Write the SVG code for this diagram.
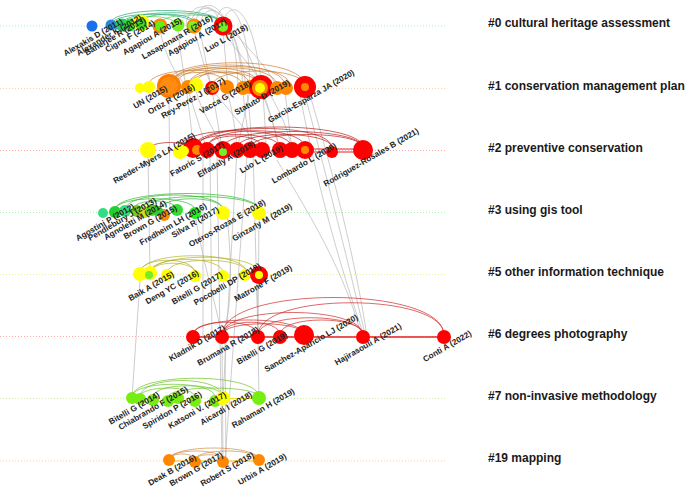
<svg xmlns="http://www.w3.org/2000/svg" width="685" height="489" viewBox="0 0 685 489">
<style>
.tl{stroke-width:1;stroke-dasharray:1 2;fill:none}
.g{fill:none;stroke:#b8b8b8;stroke-width:0.7}
.a{fill:none;stroke-width:0.8;stroke-opacity:0.85}
.nl{font-family:"Liberation Sans",Arial,sans-serif;font-size:8.2px;font-weight:bold;fill:#222;text-anchor:middle}
.cl{font-family:"Liberation Sans",Arial,sans-serif;font-size:12px;font-weight:bold;fill:#1a1a1a}
.r{fill:#ff0000}.o{fill:#ff8800}.y{fill:#ffff00}.gr{fill:#77ee11}
</style>
<rect width="685" height="489" fill="#fff"/>
<g id="timelines">
<line class="tl" x1="0" y1="26" x2="445" y2="26" stroke="#99eee0"/>
<line class="tl" x1="0" y1="88.5" x2="445" y2="88.5" stroke="#ffd0a0"/>
<line class="tl" x1="0" y1="150.5" x2="445" y2="150.5" stroke="#ffa8a8"/>
<line class="tl" x1="0" y1="212.5" x2="445" y2="212.5" stroke="#aaeeaa"/>
<line class="tl" x1="0" y1="274.5" x2="445" y2="274.5" stroke="#eeee99"/>
<line class="tl" x1="0" y1="336.5" x2="445" y2="336.5" stroke="#ffa8a8"/>
<line class="tl" x1="0" y1="398.5" x2="445" y2="398.5" stroke="#d4f0a8"/>
<line class="tl" x1="0" y1="461" x2="445" y2="461" stroke="#ffcc99"/>
</g>
<g id="connectors">
<g id="inter-cluster">
<path class="g" d="M186 26 C188 -6 238 -6 243 88"/>
<path class="g" d="M215 26 C218 -5 248 -5 250 88"/>
<path class="g" d="M223 24 C228 -4 262 -4 266 150"/>
<path class="g" d="M196 26 C196 -8 236 -8 238 88"/>
<path class="g" d="M190 26 C192 5 218 0 220 26"/>
<path class="g" d="M200 26 C203 -4 245 -4 252 150"/>
<path class="g" d="M223 30 L228 88"/>
<path class="g" d="M200 30 C205 60 215 100 222 150"/>
<path class="g" d="M223 30 C240 60 280 90 292 150"/>
<path class="g" d="M178 28 C180 60 190 100 193 150"/>
<path class="g" d="M230 28 C250 50 270 70 277 88"/>
<path class="g" d="M194 30 C200 50 205 70 212 88"/>
<path class="g" d="M235 30 C255 60 270 110 280 150"/>
<path class="g" d="M160 30 C165 55 175 75 188 88"/>
<path class="g" d="M169 98 L170 212"/>
<path class="g" d="M260 90 C270 110 275 130 280 150"/>
<path class="g" d="M250 90 L237 150"/>
<path class="g" d="M188 90 L207 150"/>
<path class="g" d="M243 90 C245 120 250 140 250 150"/>
<path class="g" d="M285 92 L292 150"/>
<path class="g" d="M212 90 C230 110 245 130 262 150"/>
<path class="g" d="M196 90 C200 110 215 130 223 150"/>
<path class="g" d="M227 90 C232 110 236 130 237 150"/>
<path class="g" d="M203 150 L203 337"/>
<path class="g" d="M210 155 L212 337"/>
<path class="g" d="M217 155 L222 461"/>
<path class="g" d="M237 150 L223 398"/>
<path class="g" d="M247 155 L225 461"/>
<path class="g" d="M253 150 L258 337"/>
<path class="g" d="M300 95 C320 200 345 280 362 330"/>
<path class="g" d="M305 95 C330 190 350 270 364 330"/>
<path class="g" d="M310 95 C335 180 355 260 366 330"/>
<path class="g" d="M277 160 C300 200 340 260 360 330"/>
<path class="g" d="M140 280 L132 398"/>
<path class="g" d="M257 280 L259 398"/>
<path class="g" d="M222 340 L223 461"/>
<path class="g" d="M225 340 L226 461"/>
<path class="g" d="M227 213 C230 250 235 300 222 337"/>
<path class="g" d="M259 213 L258 337"/>
<path class="g" d="M195 213 C200 250 215 300 222 337"/>
<path class="g" d="M148 155 L150 274"/>
</g>
<g id="arcs-0" stroke="#1fa870">
<path class="a" d="M110 24 C110 6 222 6 222 24"/>
<path class="a" d="M122 24 C122 9 222 9 222 24"/>
<path class="a" d="M140 24 C140 11 195 11 195 24"/>
<path class="a" d="M112 24 C112 11 193 11 193 24"/>
<path class="a" d="M125 24 C125 14 175 14 175 24" stroke="#44cc44"/>
<path class="a" d="M160 24 C160 12 222 12 222 24" stroke="#44cc44"/>
</g>
<g id="arcs-1" stroke="#c87a30">
<path class="a" d="M165 86 C165 55 305 55 305 86"/>
<path class="a" d="M169 86 C169 58 285 58 285 86"/>
<path class="a" d="M188 86 C188 62 277 62 277 86"/>
<path class="a" d="M169 86 C169 62 260 62 260 86"/>
<path class="a" d="M195 86 C195 66 250 66 250 86"/>
<path class="a" d="M212 86 C212 66 305 66 305 86"/>
<path class="a" d="M148 86 C148 65 243 65 243 86"/>
<path class="a" d="M169 86 C169 68 227 68 227 86"/>
<path class="a" d="M175 86 C175 60 290 60 290 86"/>
<path class="a" d="M188 86 C188 68 260 68 260 86"/>
</g>
<g id="arcs-2" stroke="#b81414">
<path class="a" d="M193 148 C193 120 363 120 363 148"/>
<path class="a" d="M197 148 C197 122 332 122 332 148"/>
<path class="a" d="M207 148 C207 125 305 125 305 148"/>
<path class="a" d="M180 148 C180 125 292 125 292 148"/>
<path class="a" d="M223 148 C223 126 363 126 363 148"/>
<path class="a" d="M193 148 C193 130 280 130 280 148"/>
<path class="a" d="M148 150 C148 140 193 140 193 150"/>
<path class="a" d="M237 148 C237 130 332 130 332 148"/>
<path class="a" d="M250 148 C250 130 363 130 363 148"/>
<path class="a" d="M207 148 C207 132 262 132 262 148"/>
<path d="M292 149 L363 149 M300 152 L363 152" stroke="#e02020" stroke-width="1" fill="none"/>
</g>
<g id="arcs-3" stroke="#2ab52a">
<path class="a" d="M115 210 C115 188 259 188 259 210"/>
<path class="a" d="M125 210 C125 190 223 190 223 210"/>
<path class="a" d="M140 210 C140 192 259 192 259 210"/>
<path class="a" d="M160 210 C160 195 223 195 223 210"/>
<path class="a" d="M115 210 C115 195 195 195 195 210"/>
<path class="a" d="M133 210 C133 198 177 198 177 210"/>
</g>
<g id="arcs-5" stroke="#b0b020">
<path class="a" d="M140 273 C140 250 247 250 247 273"/>
<path class="a" d="M150 273 C150 252 259 252 259 273"/>
<path class="a" d="M150 273 C150 255 223 255 223 273"/>
<path class="a" d="M140 273 C140 256 195 256 195 273"/>
<path class="a" d="M167 273 C167 256 247 256 247 273"/>
<path class="a" d="M150 273 C150 260 195 260 195 273"/>
</g>
<g id="arcs-6" stroke="#cc2020">
<path class="a" d="M222 335 C222 285 444 285 444 335"/>
<path class="a" d="M258 335 C258 292 444 292 444 335"/>
<path class="a" d="M222 335 C222 305 363 305 363 335"/>
<path class="a" d="M193 335 C193 318 258 318 258 335"/>
<path class="a" d="M193 335 C193 315 304 315 304 335"/>
<path class="a" d="M222 335 C222 318 280 318 280 335"/>
<path class="a" d="M258 335 C258 312 363 312 363 335"/>
<path class="a" d="M280 335 C280 315 363 315 363 335"/>
<path class="a" d="M222 335 C222 320 304 320 304 335"/>
<path d="M193 337 L444 337" stroke="#e82020" stroke-width="1.3" fill="none"/>
</g>
<g id="arcs-7" stroke="#66c21a">
<path class="a" d="M132 397 C132 372 259 372 259 397"/>
<path class="a" d="M140 397 C140 375 223 375 223 397"/>
<path class="a" d="M132 397 C132 380 215 380 215 397"/>
<path class="a" d="M153 397 C153 382 223 382 223 397"/>
<path class="a" d="M140 397 C140 385 195 385 195 397"/>
<path class="a" d="M168 397 C168 385 259 385 259 397"/>
<path d="M223 398.5 L259 398.5" stroke="#e8e020" stroke-width="1.2" fill="none"/>
</g>
<g id="arcs-19" stroke="#cc8844">
<path class="a" d="M169 460 C169 444 259 444 259 460"/>
<path class="a" d="M169 460 C169 448 223 448 223 460"/>
<path class="a" d="M195 460 C195 448 259 448 259 460"/>
<path class="a" d="M169 460 C169 452 195 452 195 460"/>
<path class="a" d="M195 460 C195 453 223 453 223 460"/>
<path d="M169 461 L259 461" stroke="#f0c020" stroke-width="1.2" fill="none"/>
</g>
</g>
<g id="cluster-0">
<g id="n-alexakis"><circle cx="92" cy="26" r="5.5" fill="#1a6ff0"/></g>
<g id="n-alexander"><circle cx="111" cy="25" r="5.5" fill="#2a8ad8"/></g>
<g id="n-banerjee"><circle cx="122" cy="25" r="6.5" fill="#22cc66"/></g>
<g id="n-0d"><circle cx="130" cy="25" r="6.5" fill="#33dd33"/></g>
<g id="n-cigna"><circle cx="141" cy="23" r="8.5" class="y"/><circle cx="141" cy="24" r="6" fill="#44dd22"/></g>
<g id="n-agapiou15"><circle cx="160" cy="26" r="7.5" class="o"/><circle cx="160" cy="26" r="5" fill="#66ee11"/></g>
<g id="n-lasaponara"><circle cx="178" cy="25" r="6.5" fill="#77ee22"/></g>
<g id="n-agapiou17"><circle cx="194" cy="26" r="7.5" class="o"/><circle cx="193" cy="26" r="5" fill="#88ee22"/></g>
<g id="n-luo18"><circle cx="223" cy="26" r="9.5" class="r"/><circle cx="223" cy="27" r="5" fill="#77ee22"/></g>
<text class="nl" transform="translate(93,37) rotate(-30)" y="3">Alexakis D (2011)</text>
<text class="nl" transform="translate(109,35) rotate(-30)" y="3">Alexander K (2012)</text>
<text class="nl" transform="translate(115,36) rotate(-30)" y="3">Banerjee R (2013)</text>
<text class="nl" transform="translate(130,36) rotate(-30)" y="3">Cigna F (2014)</text>
<text class="nl" transform="translate(152,36) rotate(-30)" y="3">Agapiou A (2015)</text>
<text class="nl" transform="translate(177,37) rotate(-30)" y="3">Lasaponara R (2016)</text>
<text class="nl" transform="translate(197,37) rotate(-30)" y="3">Agapiou A (2017)</text>
<text class="nl" transform="translate(226,38) rotate(-30)" y="3">Luo L (2018)</text>
<text class="cl" x="488" y="27">#0 cultural heritage assessment</text>
</g>
<g id="cluster-1">
<g id="n-1a"><circle cx="140" cy="88" r="5" class="y"/></g>
<g id="n-un"><circle cx="149" cy="87" r="6" class="y"/></g>
<g id="n-ortiz"><circle cx="169" cy="86" r="12" fill="#ff7a00"/><circle cx="169" cy="86" r="9" fill="#ff8c10"/></g>
<g id="n-1c"><circle cx="188" cy="87" r="7" class="o"/></g>
<g id="n-1d"><circle cx="196" cy="85" r="7" class="y"/></g>
<g id="n-reyperez"><circle cx="212" cy="88" r="7" class="r"/><circle cx="213" cy="88" r="5" class="o"/></g>
<g id="n-1f"><circle cx="227" cy="87" r="7" class="o"/></g>
<g id="n-vacca"><circle cx="243" cy="88" r="7" class="o"/></g>
<g id="n-1h"><circle cx="250" cy="87" r="7" class="o"/></g>
<g id="n-statuto"><circle cx="261" cy="87" r="12" class="r"/><circle cx="260" cy="88" r="8" class="o"/><circle cx="260" cy="88" r="5" class="y"/></g>
<g id="n-1j"><circle cx="277" cy="88" r="7" class="o"/></g>
<g id="n-1k"><circle cx="286" cy="88" r="7" class="o"/></g>
<g id="n-garcia"><circle cx="305" cy="87" r="11" class="r"/><circle cx="305" cy="87" r="4" class="o"/></g>
<text class="nl" transform="translate(150,97) rotate(-30)" y="3">UN (2015)</text>
<text class="nl" transform="translate(171,99) rotate(-30)" y="3">Ortiz R (2016)</text>
<text class="nl" transform="translate(193,98) rotate(-30)" y="3">Rey-Perez J (2017)</text>
<text class="nl" transform="translate(225,97) rotate(-30)" y="3">Vacca G (2018)</text>
<text class="nl" transform="translate(262,97) rotate(-30)" y="3">Statuto D (2019)</text>
<text class="nl" transform="translate(311,96) rotate(-30)" y="3">Garcia-Esparza JA (2020)</text>
<text class="cl" x="488" y="89.5">#1 conservation management plan</text>
</g>
<g id="cluster-2">
<g id="n-reeder"><circle cx="148" cy="150" r="8" class="y"/></g>
<g id="n-2b"><circle cx="180" cy="152" r="7" class="y"/></g>
<g id="n-2c"><circle cx="193" cy="148" r="10" class="r"/><circle cx="184" cy="151" r="5" class="y"/><circle cx="197" cy="150" r="5" class="o"/></g>
<g id="n-fatoric"><circle cx="207" cy="150" r="8" class="r"/></g>
<g id="n-2e"><circle cx="223" cy="150" r="9" class="r"/><circle cx="223" cy="152" r="4" fill="#77ee22"/></g>
<g id="n-2f"><circle cx="237" cy="150" r="8" class="r"/></g>
<g id="n-elfadaly"><circle cx="250" cy="150" r="8" class="r"/></g>
<g id="n-2h"><circle cx="262" cy="150" r="8" class="r"/></g>
<g id="n-luo19"><circle cx="280" cy="150" r="8" class="r"/></g>
<g id="n-2j"><circle cx="292" cy="150" r="8" class="r"/></g>
<g id="n-2k"><circle cx="305" cy="150" r="9" class="r"/><circle cx="305" cy="150" r="4" class="o"/></g>
<g id="n-lombardo"><circle cx="332" cy="152" r="6" class="r"/></g>
<g id="n-rodriguez"><circle cx="363" cy="150" r="10" class="r"/></g>
<text class="nl" transform="translate(154,158) rotate(-30)" y="3">Reeder-Myers LA (2015)</text>
<text class="nl" transform="translate(197,159) rotate(-30)" y="3">Fatoric S (2017)</text>
<text class="nl" transform="translate(226,159) rotate(-30)" y="3">Elfadaly A (2018)</text>
<text class="nl" transform="translate(261,159) rotate(-30)" y="3">Luo L (2019)</text>
<text class="nl" transform="translate(304,163) rotate(-30)" y="3">Lombardo L (2020)</text>
<text class="nl" transform="translate(371,157) rotate(-30)" y="3">Rodriguez-Rosales B (2021)</text>
<text class="cl" x="488" y="151.5">#2 preventive conservation</text>
</g>
<g id="cluster-3">
<g id="n-agostini"><circle cx="103" cy="213" r="5" fill="#33dd88"/></g>
<g id="n-3b"><circle cx="115" cy="212" r="6" fill="#22cc33"/></g>
<g id="n-pendlebury"><circle cx="125" cy="211" r="6" fill="#33dd77"/></g>
<g id="n-agnoletti"><circle cx="137" cy="211" r="6" fill="#77cc22"/></g>
<g id="n-3e"><circle cx="145" cy="212" r="6" fill="#ccdd22"/></g>
<g id="n-3f"><circle cx="152" cy="210" r="6" fill="#55cc22"/></g>
<g id="n-brown15"><circle cx="164" cy="215" r="6" class="o"/><circle cx="158" cy="211" r="5" fill="#33cc33"/></g>
<g id="n-fredheim"><circle cx="177" cy="210" r="6" fill="#33dd33"/></g>
<g id="n-silva"><circle cx="195" cy="213" r="6" fill="#22ee22"/></g>
<g id="n-oteros"><circle cx="223" cy="213" r="7" class="y"/></g>
<g id="n-ginzarly"><circle cx="259" cy="213" r="7" class="y"/></g>
<text class="nl" transform="translate(105,222) rotate(-30)" y="3">Agostini P (2012)</text>
<text class="nl" transform="translate(122,219) rotate(-30)" y="3">Pendlebury J (2013)</text>
<text class="nl" transform="translate(135,220) rotate(-30)" y="3">Agnoletti M (2014)</text>
<text class="nl" transform="translate(150,222) rotate(-30)" y="3">Brown G (2015)</text>
<text class="nl" transform="translate(173,224) rotate(-30)" y="3">Fredheim LH (2016)</text>
<text class="nl" transform="translate(195,222) rotate(-30)" y="3">Silva R (2017)</text>
<text class="nl" transform="translate(227,223) rotate(-30)" y="3">Oteros-Rozas E (2018)</text>
<text class="nl" transform="translate(262,222) rotate(-30)" y="3">Ginzarly M (2019)</text>
<text class="cl" x="488" y="213.5">#3 using gis tool</text>
</g>
<g id="cluster-5">
<g id="n-5a"><circle cx="140" cy="274" r="7" class="y"/></g>
<g id="n-baik"><circle cx="150" cy="273" r="7" class="y"/><circle cx="149" cy="275" r="4" fill="#77ee22"/></g>
<g id="n-deng"><circle cx="167" cy="275" r="6" class="y"/></g>
<g id="n-bitelli17"><circle cx="195" cy="276" r="6" class="y"/></g>
<g id="n-pocobelli"><circle cx="223" cy="276" r="6" class="y"/></g>
<g id="n-5f"><circle cx="245" cy="275" r="6" class="y"/></g>
<g id="n-matrone"><circle cx="259" cy="275" r="9" class="r"/><circle cx="259" cy="275" r="4" class="y"/></g>
<text class="nl" transform="translate(151,286) rotate(-30)" y="3">Baik A (2015)</text>
<text class="nl" transform="translate(172,287) rotate(-30)" y="3">Deng YC (2016)</text>
<text class="nl" transform="translate(197,288) rotate(-30)" y="3">Bitelli G (2017)</text>
<text class="nl" transform="translate(227,284) rotate(-30)" y="3">Pocobelli DP (2018)</text>
<text class="nl" transform="translate(263,283) rotate(-30)" y="3">Matrone F (2019)</text>
<text class="cl" x="488" y="275.5">#5 other information technique</text>
</g>
<g id="cluster-6">
<g id="n-kladnik"><circle cx="193" cy="337" r="7" class="r"/></g>
<g id="n-brumana"><circle cx="222" cy="337" r="7" class="r"/></g>
<g id="n-bitelli19"><circle cx="258" cy="337" r="7" class="r"/></g>
<g id="n-6d"><circle cx="280" cy="337" r="7" class="r"/></g>
<g id="n-sanchez"><circle cx="304" cy="335" r="10" class="r"/></g>
<g id="n-hajirasouli"><circle cx="363" cy="337" r="7" class="r"/></g>
<g id="n-conti"><circle cx="444" cy="337" r="7" class="r"/></g>
<text class="nl" transform="translate(197,343) rotate(-30)" y="3">Kladnik D (2017)</text>
<text class="nl" transform="translate(228,346) rotate(-30)" y="3">Brumana R (2018)</text>
<text class="nl" transform="translate(262,348) rotate(-30)" y="3">Bitelli G (2019)</text>
<text class="nl" transform="translate(311,343) rotate(-30)" y="3">Sanchez-Aparicio LJ (2020)</text>
<text class="nl" transform="translate(368,344) rotate(-30)" y="3">Hajirasouli A (2021)</text>
<text class="nl" transform="translate(447,346) rotate(-30)" y="3">Conti A (2022)</text>
<text class="cl" x="488" y="337.5">#6 degrees photography</text>
</g>
<g id="cluster-7">
<g id="n-bitelli14"><circle cx="132" cy="398" r="6" class="gr"/></g>
<g id="n-7b"><circle cx="140" cy="399" r="6" class="gr"/></g>
<g id="n-chiabrando"><circle cx="153" cy="400" r="6" class="gr"/></g>
<g id="n-spiridon"><circle cx="168" cy="401" r="6" class="gr"/></g>
<g id="n-7e"><circle cx="178" cy="398" r="6" class="gr"/></g>
<g id="n-katsoni"><circle cx="195" cy="401" r="6" class="gr"/></g>
<g id="n-7g"><circle cx="215" cy="401" r="6" class="gr"/></g>
<g id="n-aicardi"><circle cx="223" cy="398" r="7" class="y"/></g>
<g id="n-rahaman"><circle cx="259" cy="398" r="7" class="gr"/></g>
<text class="nl" transform="translate(134,408) rotate(-30)" y="3">Bitelli G (2014)</text>
<text class="nl" transform="translate(153,408) rotate(-30)" y="3">Chiabrando F (2015)</text>
<text class="nl" transform="translate(172,410) rotate(-30)" y="3">Spiridon P (2016)</text>
<text class="nl" transform="translate(197,410) rotate(-30)" y="3">Katsoni V. (2017)</text>
<text class="nl" transform="translate(226,408) rotate(-30)" y="3">Aicardi I (2018)</text>
<text class="nl" transform="translate(263,408) rotate(-30)" y="3">Rahaman H (2019)</text>
<text class="cl" x="488" y="399.5">#7 non-invasive methodology</text>
</g>
<g id="cluster-19">
<g id="n-deak"><circle cx="169" cy="460" r="6" class="o"/></g>
<g id="n-brown17"><circle cx="195" cy="462" r="6" class="o"/></g>
<g id="n-robert"><circle cx="223" cy="462" r="6" class="o"/></g>
<g id="n-urbis"><circle cx="259" cy="460" r="6" class="o"/></g>
<text class="nl" transform="translate(172,470) rotate(-30)" y="3">Deak B (2016)</text>
<text class="nl" transform="translate(196,469) rotate(-30)" y="3">Brown G (2017)</text>
<text class="nl" transform="translate(227,469) rotate(-30)" y="3">Robert S (2018)</text>
<text class="nl" transform="translate(262,469) rotate(-30)" y="3">Urbis A (2019)</text>
<text class="cl" x="488" y="462">#19 mapping</text>
</g>
</svg>
